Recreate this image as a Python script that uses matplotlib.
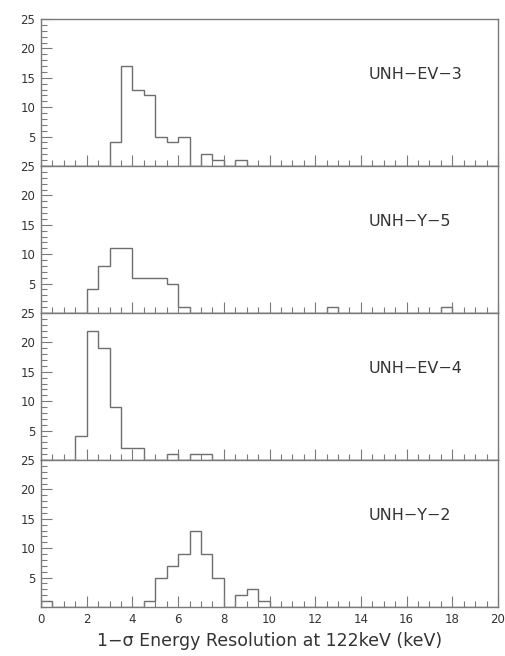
import matplotlib
matplotlib.use("Agg")
import matplotlib.pyplot as plt
import numpy as np

# bin edges: 0 to 20 keV, 0.5 keV bins
edges = np.arange(0, 20.5, 0.5)

# counts per 0.5 keV bin (40 bins)
unh_ev_3 = [0, 0, 0, 0, 0, 0, 4, 17, 13, 12, 5, 4, 5, 0, 2, 1, 0, 1, 0, 0,
            0, 0, 0, 0, 0, 0, 0, 0, 0, 0, 0, 0, 0, 0, 0, 0, 0, 0, 0, 0]
unh_y_5 = [0, 0, 0, 0, 4, 8, 11, 11, 6, 6, 6, 5, 1, 0, 0, 0, 0, 0, 0, 0,
           0, 0, 0, 0, 0, 1, 0, 0, 0, 0, 0, 0, 0, 0, 0, 1, 0, 0, 0, 0]
unh_ev_4 = [0, 0, 0, 4, 22, 19, 9, 2, 2, 0, 0, 1, 0, 1, 1, 0, 0, 0, 0, 0,
            0, 0, 0, 0, 0, 0, 0, 0, 0, 0, 0, 0, 0, 0, 0, 0, 0, 0, 0, 0]
unh_y_2 = [1, 0, 0, 0, 0, 0, 0, 0, 0, 1, 5, 7, 9, 13, 9, 5, 0, 2, 3, 1,
           0, 0, 0, 0, 0, 0, 0, 0, 0, 0, 0, 0, 0, 0, 0, 0, 0, 0, 0, 0]

labels = ["UNH\u2212EV\u22123", "UNH\u2212Y\u22125", "UNH\u2212EV\u22124", "UNH\u2212Y\u22122"]
series = [unh_ev_3, unh_y_5, unh_ev_4, unh_y_2]

line_col = "#6e6e6e"
axis_col = "#7a7a7a"

fig = plt.figure(figsize=(5.06, 6.56), dpi=100)
left, width = 41 / 506, 457 / 506
top = 1 - 19 / 656
h = (607 - 19) / 656 / 4

for i, (lab, counts) in enumerate(zip(labels, series)):
    ax = fig.add_axes([left, top - (i + 1) * h, width, h])
    ax.stairs(counts, edges, color=line_col, linewidth=1.0)
    ax.set_xlim(0, 20)
    ax.set_ylim(0, 25)
    ax.set_xticks(np.arange(0, 21, 2))
    ax.set_xticks(np.arange(0, 20.5, 0.5), minor=True)
    ax.set_yticks([5, 10, 15, 20, 25])
    ax.set_yticks(np.arange(0, 26, 1), minor=True)
    ax.tick_params(axis="both", which="major", direction="in", length=8,
                   width=0.8, color=axis_col, labelsize=8.5, pad=4,
                   labelcolor="#333333")
    ax.tick_params(axis="both", which="minor", direction="in", length=4,
                   width=0.8, color=axis_col)
    ax.tick_params(axis="x", which="both", top=False)
    ax.tick_params(axis="y", which="both", right=False)
    for sp in ax.spines.values():
        sp.set_color(axis_col)
        sp.set_linewidth(1.0)
    if i < 3:
        ax.tick_params(axis="x", labelbottom=False)
    ax.text(0.716, 0.62, lab, transform=ax.transAxes, fontsize=11.5,
            va="center", ha="left", color="#333333")

ax.set_xlabel("1\u2212\u03c3 Energy Resolution at 122keV (keV)", fontsize=12.5,
              color="#333333", labelpad=5)

fig.savefig("out.png", dpi=100)
